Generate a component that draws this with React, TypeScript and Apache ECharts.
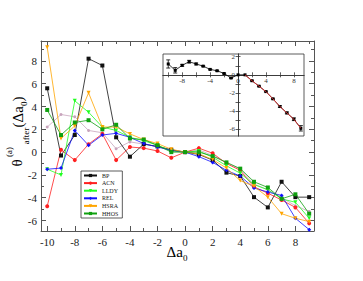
import React, { useEffect, useRef } from "react";
import * as echarts from "echarts";

const X = [-10, -9, -8, -7, -6, -5, -4, -3, -2, -1, 0, 1, 2, 3, 4, 5, 6, 7, 8, 9];
const BP = [5.6, -0.3, 1.5, 8.2, 7.6, 1.3, -0.4, 0.7, 0.5, 0.2, 0, -0.2, -0.7, -1.8, -2.1, -3.95, -4.85, -2.6, -3.95, -3.95];
const ACN = [-4.75, 0.2, -0.7, 0.7, 1.6, -0.7, 0.45, 0.35, 0.1, -0.5, 0, 0.35, -0.1, -1.0, -1.6, -3.05, -3.6, -4.2, -4.85, -6.25];
const LLDY = [-1.5, -2.0, 4.5, 3.5, 2.2, 1.9, 1.3, 1.0, 0.6, 0.1, 0, 0.1, -0.45, -1.2, -1.85, -2.85, -3.3, -4.1, -4.4, -5.8];
const REL = [-1.5, -1.4, 1.9, 0.6, 1.5, 1.65, 1.3, 0.75, 0.45, 0.15, 0, -0.4, -0.9, -1.6, -2.1, -3.15, -3.5, -3.8, -5.8, -6.8];
const HSRA = [9.2, 1.2, 2.3, 5.2, 2.2, 2.2, 1.6, 1.1, 0.75, 0.25, 0, -0.15, -0.65, -1.4, -2.5, -3.0, -3.95, -5.4, -5.8, -6.1];
const HHOS = [3.7, 1.5, 2.6, 2.8, 2.0, 2.4, 1.2, 1.1, 0.6, 0.0, 0, 0.0, -0.35, -0.9, -1.45, -2.6, -3.1, -4.1, -3.7, -5.4];
const EXTRA = [2.2, 3.3, 3.1, 1.9, 1.7, 0.3, 0.9, 0.7, 0.5, 0.2, 0, 0.2, -0.3, -0.9, -1.5, -2.8, -3.3, -4.0, -4.7, -5.2];

const INSET = [1.2, 0.5, 1.05, 1.45, 1.2, 0.96, 0.6, 0.45, 0.15, -0.35, 0, 0, -0.65, -1.25, -1.85, -2.65, -3.5, -4.2, -4.9, -5.9];
const INSET_ERR = [0.45, 0.3, 0.1, 0.15, 0.1, 0.06, 0.05, 0.05, 0.05, 0.05, 0, 0, 0.05, 0.05, 0.05, 0.06, 0.1, 0.1, 0.15, 0.3];
const FIT_X = [1, 2, 3, 4, 5, 6, 7, 8, 9];
const FIT = [0, -0.65, -1.25, -1.85, -2.65, -3.5, -4.2, -4.9, -5.9];

const MAIN_X_LABELS = [-10, -8, -6, -4, -2, 0, 2, 4, 6, 8];
const MAIN_X_MINOR = [-9, -7, -5, -3, -1, 1, 3, 5, 7, 9];
const MAIN_Y_LABELS = [-6, -4, -2, 0, 2, 4, 6, 8];
const MAIN_Y_MINOR = [-5, -3, -1, 1, 3, 5, 7, 9];
const INSET_X_TICKS = [-10, -8, -6, -4, -2, 2, 4, 6, 8];
const INSET_X_LABELS = [-8, -4, 0, 4, 8];
const INSET_Y_TICKS = [-6, -5, -4, -3, -2, -1, 1, 2];
const INSET_Y_LABELS = [-6, -4, -2, 0, 2];

const SERIES = [
  { name: "BP", data: BP, color: "#111111", symbol: "rect" },
  { name: "ACN", data: ACN, color: "#ff2020", symbol: "circle" },
  { name: "LLDY", data: LLDY, color: "#20ff20", symbol: "triangle" },
  { name: "REL", data: REL, color: "#1010ff", symbol: "diamond" },
  { name: "HSRA", data: HSRA, color: "#ffa500", symbol: "triangle" },
  { name: "HHOS", data: HHOS, color: "#10a010", symbol: "rect" },
];

const FONT = "Liberation Serif";
const FRAME = "#555";

export default function App() {
  const ref = useRef<HTMLDivElement>(null);
  useEffect(() => {
    if (!ref.current) return;
    const chart = echarts.init(ref.current, undefined, { renderer: "svg" });
    const xMin = -10.45, xMax = 9.35, yMin = -6.92, yMax = 9.75;
    const ixMin = -10.75, ixMax = 9.45, iyMin = -6.75, iyMax = 2.3;
    const iW = 141, iH = 82;
    const xOff = -(iH - (iyMax / (iyMax - iyMin)) * iH);
    const yOff = -((-ixMin) / (ixMax - ixMin)) * iW;

    const mkX = (pos: string, values: number[], len: number, labels: boolean, line: boolean) => ({
      type: "value", gridIndex: 0, position: pos, min: xMin, max: xMax,
      axisLine: { show: line, onZero: false, lineStyle: { color: FRAME, width: 1 } },
      axisTick: { show: true, inside: true, length: len, customValues: values, lineStyle: { color: FRAME } },
      axisLabel: labels
        ? { show: true, customValues: values, fontFamily: FONT, fontSize: 11, color: "#222", margin: 5 }
        : { show: false },
      splitLine: { show: false },
    });
    const mkY = (pos: string, values: number[], len: number, labels: boolean, line: boolean) => ({
      type: "value", gridIndex: 0, position: pos, min: yMin, max: yMax,
      axisLine: { show: line, onZero: false, lineStyle: { color: FRAME, width: 1 } },
      axisTick: { show: true, inside: true, length: len, customValues: values, lineStyle: { color: FRAME } },
      axisLabel: labels
        ? { show: true, customValues: values, fontFamily: FONT, fontSize: 11, color: "#222", margin: 4 }
        : { show: false },
      splitLine: { show: false },
    });
    const iX = (inside: boolean, labels: boolean) => ({
      type: "value", gridIndex: 1, position: "bottom", offset: xOff, min: ixMin, max: ixMax,
      axisLine: { show: true, onZero: false, lineStyle: { color: "#333", width: 0.8 } },
      axisTick: { show: true, inside, length: 2.5, customValues: INSET_X_TICKS, lineStyle: { color: "#333", width: 0.8 } },
      axisLabel: labels
        ? { show: true, customValues: INSET_X_LABELS, fontFamily: FONT, fontSize: 7, color: "#333", margin: 3 }
        : { show: false },
      splitLine: { show: false },
    });
    const iY = (inside: boolean, labels: boolean) => ({
      type: "value", gridIndex: 1, position: "left", offset: yOff, min: iyMin, max: iyMax,
      axisLine: { show: true, onZero: false, lineStyle: { color: "#333", width: 0.8 } },
      axisTick: { show: true, inside, length: 2.5, customValues: INSET_Y_TICKS, lineStyle: { color: "#333", width: 0.8 } },
      axisLabel: labels
        ? { show: true, customValues: INSET_Y_LABELS, fontFamily: FONT, fontSize: 7, color: "#333", margin: 3 }
        : { show: false },
      splitLine: { show: false },
    });

    const errorBars = {
      type: "custom",
      xAxisIndex: 4,
      yAxisIndex: 4,
      z: 5,
      data: X.map((x, i) => [x, INSET[i], INSET_ERR[i]]),
      renderItem: (params: any, api: any) => {
        const x = api.value(0), y = api.value(1), e = api.value(2);
        if (!e) return null;
        const t = api.coord([x, y + e]);
        const b = api.coord([x, y - e]);
        const st = { stroke: "#000", lineWidth: 0.8 };
        return {
          type: "group",
          children: [
            { type: "line", shape: { x1: t[0], y1: t[1], x2: b[0], y2: b[1] }, style: st },
            { type: "line", shape: { x1: t[0] - 2, y1: t[1], x2: t[0] + 2, y2: t[1] }, style: st },
            { type: "line", shape: { x1: b[0] - 2, y1: b[1], x2: b[0] + 2, y2: b[1] }, style: st },
          ],
        };
      },
    };

    chart.setOption({
      animation: false,
      backgroundColor: "#fff",
      grid: [
        { left: 41, top: 41, width: 273, height: 190, show: false },
        { left: 163, top: 54, width: iW, height: iH, show: true, borderColor: "#333", borderWidth: 0.8, backgroundColor: "#fff" },
      ],
      xAxis: [
        mkX("bottom", MAIN_X_LABELS, 5, true, true),
        mkX("bottom", MAIN_X_MINOR, 3, false, false),
        mkX("top", MAIN_X_LABELS, 5, false, true),
        mkX("top", MAIN_X_MINOR, 3, false, false),
        iX(true, true),
        iX(false, false),
      ],
      yAxis: [
        mkY("left", MAIN_Y_LABELS, 5, true, true),
        mkY("left", MAIN_Y_MINOR, 3, false, false),
        mkY("right", MAIN_Y_LABELS, 5, false, true),
        mkY("right", MAIN_Y_MINOR, 3, false, false),
        iY(true, true),
        iY(false, false),
      ],
      legend: {
        data: SERIES.map((s) => s.name),
        orient: "vertical",
        left: 81,
        top: 171,
        itemWidth: 13,
        itemHeight: 4,
        itemGap: 0.6,
        padding: [1, 4, 1, 2],
        borderColor: "#333",
        borderWidth: 0.8,
        backgroundColor: "#fff",
        textStyle: { fontFamily: FONT, fontSize: 6, lineHeight: 7, color: "#222" },
        z: 20,
      },
      graphic: [
        { type: "text", x: 16.5, y: 163, rotation: Math.PI / 2, style: { text: "θ", font: `15px "${FONT}"`, fill: "#000", align: "center", verticalAlign: "middle" } },
        { type: "text", x: 9, y: 152, rotation: Math.PI / 2, style: { text: "(a)", font: `9px "${FONT}"`, fill: "#000", align: "center", verticalAlign: "middle" } },
        { type: "text", x: 26, y: 136, rotation: Math.PI / 2, style: { text: "after", font: `9px "${FONT}"`, fill: "#000", align: "center", verticalAlign: "middle" } },
        {
          type: "text", x: 18, y: 112, rotation: Math.PI / 2,
          style: {
            text: "(Δa{s|0})", font: `15px "${FONT}"`, fill: "#000", align: "center", verticalAlign: "middle", lineHeight: 20,
            rich: { s: { fontFamily: FONT, fontSize: 9, verticalAlign: "bottom", lineHeight: 20, fill: "#000" } },
          },
        },
        {
          type: "text", x: 177, y: 252,
          style: {
            text: "Δa{s|0}", font: `15px "${FONT}"`, fill: "#000", align: "center", verticalAlign: "middle", lineHeight: 20,
            rich: { s: { fontFamily: FONT, fontSize: 9, verticalAlign: "bottom", lineHeight: 20, fill: "#000" } },
          },
        },
      ],
      series: [
        {
          name: "extra", type: "line", xAxisIndex: 0, yAxisIndex: 0,
          data: X.map((x, i) => [x, EXTRA[i]]),
          symbol: "circle", symbolSize: 3,
          lineStyle: { color: "#c8a4bc", width: 0.8 }, itemStyle: { color: "#c8a4bc" },
        },
        ...SERIES.map((s) => ({
          name: s.name, type: "line", xAxisIndex: 0, yAxisIndex: 0,
          data: X.map((x, i) => [x, s.data[i]]),
          symbol: s.symbol, symbolSize: 4,
          symbolRotate: s.name === "LLDY" || s.name === "HSRA" ? 180 : 0,
          lineStyle: { color: s.color, width: 0.8 }, itemStyle: { color: s.color },
        })),
        {
          name: "inset", type: "line", xAxisIndex: 4, yAxisIndex: 4, z: 4,
          data: X.map((x, i) => [x, INSET[i]]),
          symbol: "rect", symbolSize: 3,
          lineStyle: { color: "#000", width: 0.8 }, itemStyle: { color: "#000" },
        },
        {
          name: "fit", type: "line", xAxisIndex: 4, yAxisIndex: 4, z: 6,
          data: FIT_X.map((x, i) => [x, FIT[i]]),
          symbol: "none",
          lineStyle: { color: "#e03030", width: 0.9 },
        },
        errorBars,
      ],
    });
    return () => chart.dispose();
  }, []);
  return <div ref={ref} style={{ position: "fixed", left: 0, top: 0, width: 363, height: 281 }} />;
}
